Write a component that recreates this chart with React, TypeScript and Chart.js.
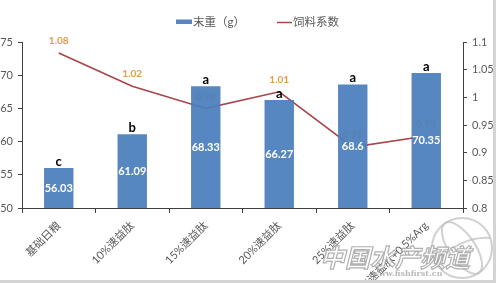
import React, { useEffect, useRef } from "react";
import { Chart, registerables } from "chart.js";

Chart.register(...registerables);

const categories = ["基础日粮", "10%速益肽", "15%速益肽", "20%速益肽", "25%速益肽", "25%速益肽+0.5%Arg"];
const finalWeight = [56.03, 61.09, 68.33, 66.27, 68.6, 70.35];
const feedRatio = [1.08, 1.02, 0.98, 1.01, 0.91, 0.93];
const sigLetters = ["c", "b", "a", "a", "a", "a"];
const seriesNames = ["末重（g）", "饲料系数"];

const FONT = "Lato, 'Noto Sans CJK SC', sans-serif";
const AXIS = "#404040";
const TXT = "#595959";
const BAR = "rgba(74,126,187,0.93)";
const LINE = "#A9444A";
const ORANGE = "#E39A4C";

const labelsPlugin = {
  id: "customLabels",
  beforeDatasetsDraw(chart: any) {
    const ctx = chart.ctx;
    const meta = chart.getDatasetMeta(1);
    ctx.save();
    ctx.font = `bold 10px ${FONT}`;
    ctx.fillStyle = ORANGE;
    ctx.textAlign = "center";
    ctx.textBaseline = "middle";
    meta.data.forEach((pt: any, i: number) => {
      ctx.fillText(String(feedRatio[i]), pt.x, pt.y - 12);
    });
    ctx.restore();
  },
  afterDatasetsDraw(chart: any) {
    const ctx = chart.ctx;
    const meta = chart.getDatasetMeta(0);
    const yScale = chart.scales.y;
    const basePx = yScale.getPixelForValue(yScale.min);
    ctx.save();
    ctx.textAlign = "center";
    meta.data.forEach((bar: any, i: number) => {
      const topPx = yScale.getPixelForValue(finalWeight[i]);
      ctx.font = `bold 11px ${FONT}`;
      ctx.fillStyle = "#ffffff";
      ctx.textBaseline = "middle";
      ctx.fillText(String(finalWeight[i]), bar.x, (topPx + basePx) / 2);
      ctx.font = `bold 13px ${FONT}`;
      ctx.fillStyle = "#000000";
      ctx.textBaseline = "alphabetic";
      ctx.fillText(sigLetters[i], bar.x, topPx - 2);
    });
    ctx.restore();
  },
  afterDraw(chart: any) {
    const ctx = chart.ctx;
    ctx.save();
    // legend
    ctx.font = `11.5px ${FONT}`;
    ctx.textBaseline = "middle";
    ctx.textAlign = "left";
    ctx.fillStyle = BAR;
    ctx.fillRect(176, 19.5, 16, 4.5);
    ctx.fillStyle = TXT;
    ctx.fillText(chart.data.datasets[0].label, 193, 22);
    ctx.strokeStyle = LINE;
    ctx.lineWidth = 1.5;
    ctx.beginPath();
    ctx.moveTo(277, 22.5);
    ctx.lineTo(292, 22.5);
    ctx.stroke();
    ctx.fillStyle = TXT;
    ctx.fillText(chart.data.datasets[1].label, 293, 22);

    // watermark globe
    ctx.strokeStyle = "rgba(190,190,190,0.7)";
    ctx.lineWidth = 2;
    ctx.beginPath();
    ctx.arc(462, 248, 30, 0, Math.PI * 2);
    ctx.stroke();
    ctx.beginPath();
    ctx.ellipse(462, 248, 13, 30, -0.6, 0, Math.PI * 2);
    ctx.stroke();
    ctx.beginPath();
    ctx.moveTo(436, 262);
    ctx.quadraticCurveTo(462, 236, 490, 238);
    ctx.stroke();

    // watermark text
    ctx.font = `bold italic 25px 'Noto Sans CJK SC', sans-serif`;
    ctx.textBaseline = "alphabetic";
    ctx.lineWidth = 1.2;
    ctx.strokeStyle = "rgba(150,150,150,0.75)";
    ctx.fillStyle = "rgba(255,255,255,0.85)";
    ctx.fillText("中国水产频道", 320, 267);
    ctx.strokeText("中国水产频道", 320, 267);
    ctx.font = `bold 8px 'DejaVu Serif', serif`;
    ctx.fillStyle = "rgba(170,170,170,0.8)";
    ctx.fillText("www.fishfirst.cn", 372, 276);

    // frame
    ctx.fillStyle = "#d4d4d4";
    ctx.fillRect(493, 0, 3, 283);
    ctx.fillRect(0, 280, 496, 3);
    ctx.restore();
  },
};

export default function App() {
  const ref = useRef<HTMLCanvasElement | null>(null);
  useEffect(() => {
    if (!ref.current) return;
    const chart = new Chart(ref.current, {
      type: "bar",
      data: {
        labels: categories,
        datasets: [
          {
            type: "bar",
            label: seriesNames[0],
            data: finalWeight,
            backgroundColor: BAR,
            barPercentage: 0.4,
            categoryPercentage: 1,
            yAxisID: "y",
            order: 0,
          } as any,
          {
            type: "line",
            label: seriesNames[1],
            data: feedRatio,
            borderColor: LINE,
            borderWidth: 1.6,
            pointRadius: 0,
            tension: 0,
            yAxisID: "y1",
            order: 1,
          } as any,
        ],
      },
      options: {
        animation: false,
        responsive: false,
        layout: { padding: { top: 42, left: 0, right: 0, bottom: 0 } },
        plugins: { legend: { display: false }, tooltip: { enabled: false } },
        scales: {
          x: {
            afterFit: (s: any) => { s.height = 75; },
            grid: { display: true, drawOnChartArea: false, tickLength: 5, color: AXIS, offset: true },
            border: { display: true, color: AXIS },
            ticks: {
              autoSkip: false,
              maxRotation: 45,
              minRotation: 45,
              padding: 6,
              color: TXT,
              font: { family: FONT, size: 11 },
            },
          },
          y: {
            position: "left",
            min: 50,
            max: 75,
            afterFit: (s: any) => { s.width = 22; },
            grid: { display: true, drawOnChartArea: false, tickLength: 4, color: AXIS },
            border: { display: true, color: AXIS },
            ticks: { stepSize: 5, padding: 5, color: TXT, font: { family: FONT, size: 11 } },
          },
          y1: {
            position: "right",
            min: 0.8,
            max: 1.1,
            afterFit: (s: any) => { s.width = 33; },
            grid: { display: true, drawOnChartArea: false, tickLength: 4, color: AXIS },
            border: { display: true, color: AXIS },
            ticks: {
              stepSize: 0.05,
              padding: 5,
              color: TXT,
              font: { family: FONT, size: 11 },
              callback: (v: any) => String(Number(Number(v).toFixed(2))),
            },
          },
        },
      },
      plugins: [labelsPlugin],
    });
    return () => chart.destroy();
  }, []);
  return (
    <div style={{ position: "fixed", left: 0, top: 0, width: 496, height: 283, background: "#fff" }}>
      <canvas ref={ref} width={496} height={283} style={{ width: 496, height: 283, display: "block" }} />
    </div>
  );
}
